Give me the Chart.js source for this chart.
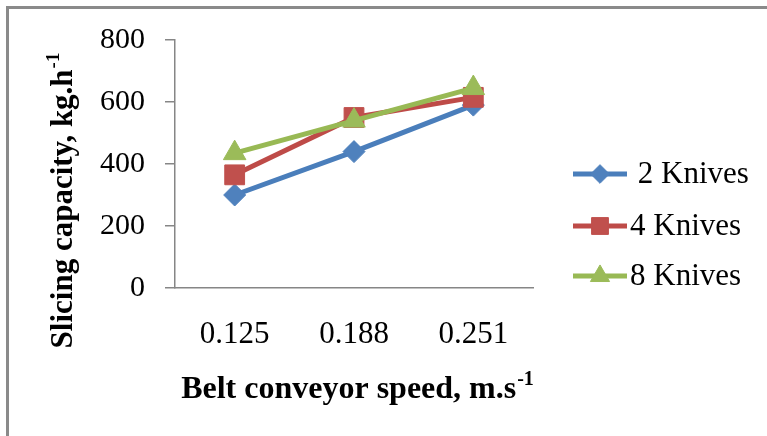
<!DOCTYPE html>
<html>
<head>
<meta charset="utf-8">
<script src="https://cdn.jsdelivr.net/npm/chart.js@4.4.0/dist/chart.umd.min.js"></script>
<style>
  html, body { margin: 0; padding: 0; background: #fff; }
  #wrap { width: 767px; height: 436px; }
</style>
</head>
<body>
<div id="wrap"><canvas id="chart" width="767" height="436"></canvas></div>
<script>
// chart values
const speeds = ['0.125', '0.188', '0.251'];
const knives2 = [300, 440, 590];
const knives4 = [365, 550, 615];
const knives8 = [435, 540, 645];
const seriesNames = [' 2 Knives', '4 Knives', '8 Knives'];
const yTicks = [0, 200, 400, 600, 800];

const serif = '"Liberation Serif", "Times New Roman", serif';

// draw text followed by a small raised "-1"
function drawWithSup(ctx, main, sup, size, x, y) {
    const big = 'bold ' + size + 'px ' + serif;
    const small = 'bold ' + Math.round(size * 0.62) + 'px ' + serif;
    ctx.font = big;
    const w1 = ctx.measureText(main).width;
    ctx.font = small;
    const w2 = ctx.measureText(sup).width;
    const start = x - (w1 + w2) / 2;
    ctx.textAlign = 'left';
    ctx.textBaseline = 'alphabetic';
    ctx.font = big;
    ctx.fillText(main, start, y);
    ctx.font = small;
    ctx.fillText(sup, start + w1 + 1, y - size * 0.42);
}

const extras = {
    id: 'extras',
    beforeDraw(chart) {
        const ctx = chart.ctx;
        ctx.save();
        ctx.fillStyle = '#fff';
        ctx.fillRect(0, 0, chart.width, chart.height);
        // outer frame (only top and left edges are visible)
        ctx.fillStyle = '#8a8a8a';
        ctx.fillRect(6, 6, chart.width - 6, 3);
        ctx.fillRect(6, 6, 3, chart.height - 6);
        ctx.restore();
    },
    afterDraw(chart) {
        const ctx = chart.ctx;
        ctx.save();
        ctx.fillStyle = '#000';

        // axis titles
        drawWithSup(ctx, 'Belt conveyor speed, m.s', '-1', 32, 357, 398);
        ctx.save();
        ctx.translate(72, 201);
        ctx.rotate(-Math.PI / 2);
        drawWithSup(ctx, 'Slicing capacity, kg.h', '-1', 31, 0, 0);
        ctx.restore();

        // legend: line with marker, then name
        const rows = [174, 226, 276];
        chart.data.datasets.forEach((ds, i) => {
            const y = rows[i];
            ctx.strokeStyle = ds.borderColor;
            ctx.lineWidth = ds.borderWidth;
            ctx.beginPath();
            ctx.moveTo(573, y);
            ctx.lineTo(627, y);
            ctx.stroke();
            ctx.fillStyle = ds.pointBackgroundColor;
            ctx.strokeStyle = ds.pointBackgroundColor;
            ctx.lineWidth = 1;
            Chart.helpers.drawPoint(ctx, {
                pointStyle: ds.pointStyle,
                radius: ds.pointRadius * 0.85,
                rotation: 0,
                borderWidth: 1
            }, 600, y);
            ctx.fillStyle = '#000';
            ctx.font = '31px ' + serif;
            ctx.textAlign = 'left';
            ctx.textBaseline = 'middle';
            ctx.fillText(seriesNames[i], 630, y + 1);
        });
        ctx.restore();
    }
};

const chart = new Chart(document.getElementById('chart'), {
    type: 'line',
    data: {
        labels: speeds,
        datasets: [
            {
                label: seriesNames[0],
                data: knives2,
                borderColor: '#4A7EBB',
                borderWidth: 5,
                pointStyle: 'rectRot',
                pointRadius: 11,
                pointBackgroundColor: '#4F81BD',
                pointBorderColor: '#4F81BD',
                pointBorderWidth: 1,
                order: 2
            },
            {
                label: seriesNames[1],
                data: knives4,
                borderColor: '#BE4B48',
                borderWidth: 5,
                pointStyle: 'rect',
                pointRadius: 14,
                pointBackgroundColor: '#C0504D',
                pointBorderColor: '#C0504D',
                pointBorderWidth: 1,
                order: 1
            },
            {
                label: seriesNames[2],
                data: knives8,
                borderColor: '#98B954',
                borderWidth: 5,
                pointStyle: 'triangle',
                pointRadius: 13,
                pointBackgroundColor: '#9BBB59',
                pointBorderColor: '#9BBB59',
                pointBorderWidth: 1,
                order: 0
            }
        ]
    },
    options: {
        responsive: false,
        animation: false,
        layout: {
            padding: { left: 0, right: 234, top: 40, bottom: 0 }
        },
        plugins: {
            legend: { display: false },
            tooltip: { enabled: false }
        },
        scales: {
            x: {
                offset: true,
                afterFit: s => { s.height = 148; },
                grid: {
                    drawOnChartArea: false,
                    drawTicks: false,
                    color: '#868686'
                },
                border: { color: '#868686', width: 1.5 },
                ticks: {
                    color: '#000',
                    padding: 28,
                    font: { family: serif, size: 31 }
                }
            },
            y: {
                min: yTicks[0],
                max: yTicks[yTicks.length - 1],
                afterFit: s => { s.width = 175; },
                afterBuildTicks: s => { s.ticks = yTicks.map(v => ({ value: v })); },
                grid: {
                    drawOnChartArea: false,
                    drawTicks: true,
                    tickLength: 10,
                    color: '#868686',
                    lineWidth: 1.5
                },
                border: { color: '#868686', width: 1.5 },
                ticks: {
                    color: '#000',
                    padding: 20,
                    font: { family: serif, size: 30 }
                }
            }
        }
    },
    plugins: [extras]
});
</script>
</body>
</html>
